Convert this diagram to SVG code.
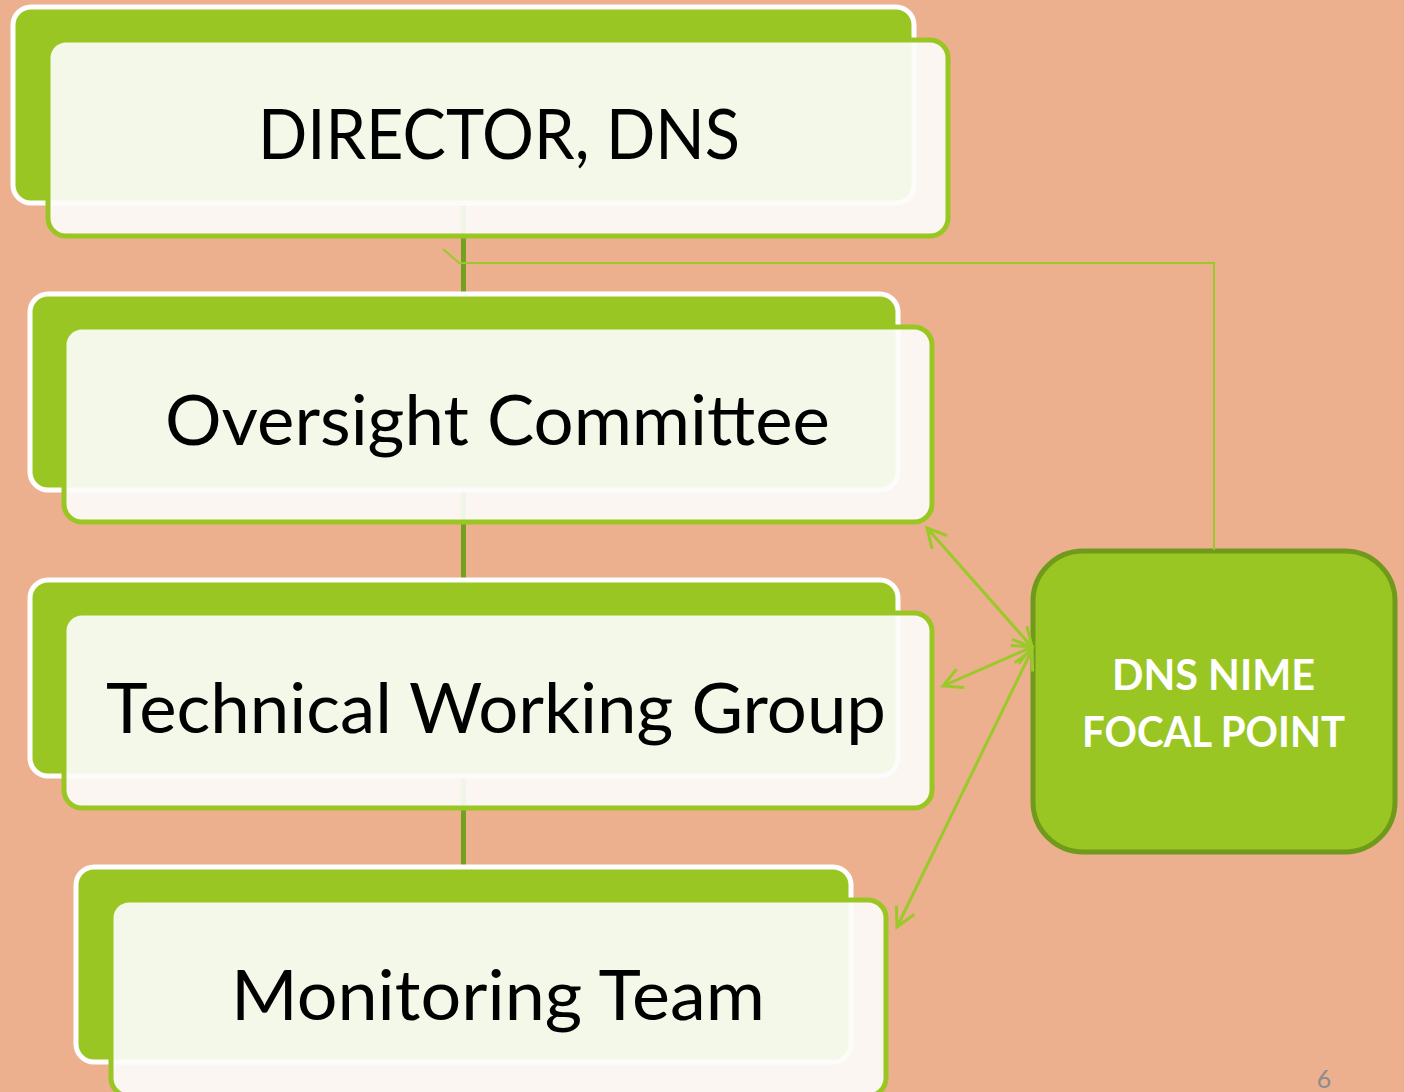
<svg xmlns="http://www.w3.org/2000/svg" width="1404" height="1092" viewBox="0 0 1404 1092">
<style>
.back{fill:#9AC623;stroke:#FFFFFF;stroke-width:5}
.front{fill:#FCFCFA;fill-opacity:0.92;stroke:#9AC623;stroke-width:5}
.lbl{font-family:Lato,"Open Sans","Liberation Sans",sans-serif;font-size:70px;fill:#000000}
.focal{fill:#9AC623;stroke:#6F9A1C;stroke-width:5}
.flbl{font-family:Lato,"Open Sans","Liberation Sans",sans-serif;font-size:42px;font-weight:bold;fill:#FFFFFF}
.trunk{stroke:#73A01E;stroke-width:5;fill:none}
.thin{stroke:#9BC92A;stroke-width:2;fill:none}
.arr{stroke:#9BC92A;stroke-width:3;fill:none;marker-start:url(#ah);marker-end:url(#ah)}
</style>
<defs>
<marker id="ah" markerUnits="userSpaceOnUse" markerWidth="30" markerHeight="30" refX="0" refY="0" viewBox="-25 -15 30 30" orient="auto-start-reverse" overflow="visible">
<path d="M-19,-10 L0,0 L-19,10" fill="none" stroke="#9BC92A" stroke-width="3"/>
</marker>
</defs>
<rect width="1404" height="1092" fill="#ECB08F"/>
<g id="focal-point">
<rect class="focal" x="1033" y="551" width="362" height="301" rx="50"/>
<text class="flbl" x="1112" y="690" textLength="203" lengthAdjust="spacingAndGlyphs">DNS NIME</text>
<text class="flbl" x="1082" y="747" textLength="263" lengthAdjust="spacingAndGlyphs">FOCAL POINT</text>
</g>
<g id="connectors">
<line class="trunk" x1="463.5" y1="140" x2="463.5" y2="990"/>
<polyline class="thin" points="1214,550 1214,263 459,263 443,249"/>
<line class="arr" x1="927" y1="528" x2="1032" y2="647"/>
<line class="arr" x1="943" y1="686" x2="1032" y2="647"/>
<line class="arr" x1="1032" y1="650" x2="897" y2="927"/>
</g>
<g id="director">
<rect class="back" x="13" y="7" width="901" height="196" rx="18"/>
<rect class="front" x="48" y="40" width="900" height="196" rx="18"/>
<text class="lbl" x="258" y="159" textLength="482" lengthAdjust="spacingAndGlyphs">DIRECTOR, DNS</text>
</g>
<g id="oversight">
<rect class="back" x="30" y="294" width="868" height="196" rx="18"/>
<rect class="front" x="64" y="327" width="868" height="195" rx="18"/>
<text class="lbl" x="165" y="445" textLength="665" lengthAdjust="spacingAndGlyphs">Oversight Committee</text>
</g>
<g id="technical">
<rect class="back" x="30" y="580" width="868" height="196" rx="18"/>
<rect class="front" x="64" y="613" width="868" height="195" rx="18"/>
<text class="lbl" x="106" y="733" textLength="780" lengthAdjust="spacingAndGlyphs">Technical Working Group</text>
</g>
<g id="monitoring">
<rect class="back" x="76" y="867" width="775" height="195" rx="18"/>
<rect class="front" x="111" y="900" width="775" height="196" rx="18"/>
<text class="lbl" x="231" y="1020" textLength="534" lengthAdjust="spacingAndGlyphs">Monitoring Team</text>
</g>
<text x="1324" y="1088" text-anchor="middle" font-family="Lato,'Liberation Sans',sans-serif" font-size="25" fill="#8C8C8C">6</text>
</svg>
